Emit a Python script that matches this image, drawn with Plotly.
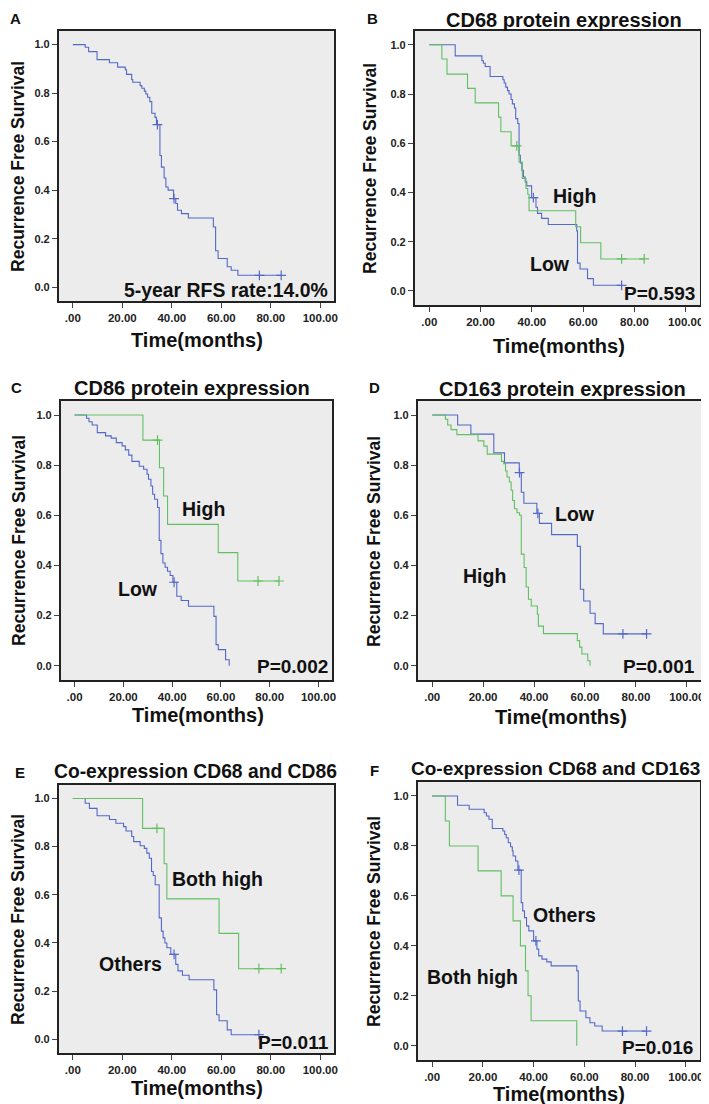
import plotly.graph_objects as go

# ---------------- data ----------------
# Panel A: all patients
A_t = [0, 5.0, 6.4, 9.8, 14.8, 18.1, 21.2, 21.7, 23.8, 24.2, 27.2, 27.9, 28.9, 29.5, 30.2, 31.1, 31.9, 33.2, 33.8,
       35.2, 35.8, 36.9, 37.6, 38.5, 40.7, 41.6, 42.3, 43.9, 46.7, 56.8, 57.7, 58.7, 62.4, 64.0, 66.7]
A_s = [1.0, 0.989, 0.971, 0.938, 0.925, 0.907, 0.896, 0.877, 0.856, 0.845, 0.831, 0.82, 0.808, 0.796, 0.783, 0.765,
       0.717, 0.70, 0.67, 0.543, 0.495, 0.45, 0.413, 0.40, 0.365, 0.345, 0.317, 0.303, 0.285, 0.248, 0.15, 0.118,
       0.084, 0.07, 0.049]
A_c = [34.2, 40.9, 75.4, 84.2]

# Panel B: CD68 (Low = blue, High = green)
B_low_t = [0, 10.1, 20.5, 21.1, 21.8, 23.7, 28.7, 29.2, 29.8, 30.5, 31.1, 31.9, 32.4, 33.2, 33.7, 34.5, 35.0, 35.5,
           36.1, 36.7, 37.4, 38.0, 39.9, 41.6, 42.2, 43.8, 46.4, 57.5, 57.8, 58.8, 61.7, 64.0]
B_low_s = [1.0, 0.955, 0.935, 0.925, 0.912, 0.871, 0.858, 0.845, 0.828, 0.814, 0.80, 0.778, 0.76, 0.743, 0.70, 0.68,
           0.551, 0.52, 0.49, 0.463, 0.443, 0.427, 0.379, 0.34, 0.315, 0.295, 0.27, 0.244, 0.113, 0.089, 0.05, 0.023]
B_low_c = [40.6, 75.0]
B_high_t = [0, 4.9, 6.9, 14.9, 17.9, 27.0, 27.9, 31.9, 35.0, 36.3, 37.7, 38.4, 38.9, 57.1, 59.0, 66.9]
B_high_s = [1.0, 0.942, 0.881, 0.823, 0.764, 0.706, 0.647, 0.589, 0.524, 0.457, 0.416, 0.393, 0.326, 0.261, 0.196, 0.13]
B_high_c = [34.1, 75.0, 83.8]

# Panel C: CD86
C_low_t = [0, 4.9, 5.9, 7.2, 9.3, 12.7, 15.0, 17.1, 19.5, 20.8, 22.2, 23.5, 26.5, 28.3, 29.7, 30.3, 31.3, 32.0, 32.8,
           34.0, 34.7, 35.4, 36.2, 37.1, 38.1, 39.2, 40.3, 41.9, 43.7, 46.7, 57.1, 58.0, 58.9, 61.9, 63.4]
C_low_s = [1.0, 0.987, 0.973, 0.96, 0.93, 0.917, 0.908, 0.89, 0.877, 0.861, 0.84, 0.815, 0.796, 0.784, 0.764, 0.744,
           0.717, 0.684, 0.664, 0.631, 0.50, 0.447, 0.41, 0.393, 0.377, 0.36, 0.333, 0.277, 0.26, 0.237, 0.197, 0.084,
           0.064, 0.024, 0.0]
C_low_c = [40.8]
C_high_t = [0, 28.0, 34.8, 36.5, 38.1, 58.9, 66.9]
C_high_s = [1.0, 0.90, 0.79, 0.677, 0.564, 0.451, 0.338]
C_high_c = [34.0, 75.2, 83.8]

# Panel D: CD163
D_low_t = [0, 10.0, 15.2, 24.2, 28.4, 34.2, 35.0, 36.0, 41.1, 42.1, 46.9, 57.0, 58.2, 59.5, 62.0, 64.0, 67.2]
D_low_s = [1.0, 0.96, 0.924, 0.849, 0.809, 0.77, 0.692, 0.648, 0.608, 0.568, 0.523, 0.476, 0.305, 0.258, 0.209,
           0.168, 0.127]
D_low_c = [34.3, 41.5, 74.9, 84.2]
D_high_t = [0, 5.2, 6.1, 7.4, 9.7, 18.0, 20.3, 21.6, 27.2, 28.1, 28.8, 29.4, 30.3, 31.0, 31.6, 32.3, 33.3, 34.3,
            35.0, 36.1, 36.9, 37.8, 38.9, 41.3, 41.7, 43.7, 57.0, 57.9, 58.8, 61.1, 62.0]
D_high_s = [1.0, 0.983, 0.96, 0.942, 0.922, 0.897, 0.876, 0.844, 0.815, 0.806, 0.777, 0.753, 0.733, 0.70, 0.659,
            0.626, 0.61, 0.60, 0.445, 0.392, 0.314, 0.265, 0.238, 0.205, 0.158, 0.128, 0.10, 0.074, 0.047, 0.02, 0.0]
D_high_c = []

# Panel E: co-expression CD68 and CD86
E_oth_t = [0, 5.0, 6.7, 9.8, 14.8, 17.4, 20.5, 21.5, 23.8, 24.6, 27.2, 28.9, 29.9, 30.9, 31.8, 32.5, 33.3, 34.9,
           35.8, 36.5, 37.2, 38.0, 39.6, 41.6, 42.5, 44.3, 47.0, 57.0, 58.1, 59.1, 62.4, 64.0]
E_oth_s = [1.0, 0.98, 0.959, 0.928, 0.913, 0.897, 0.883, 0.865, 0.842, 0.821, 0.804, 0.793, 0.773, 0.752, 0.697,
           0.68, 0.642, 0.504, 0.449, 0.421, 0.40, 0.38, 0.353, 0.311, 0.284, 0.266, 0.247, 0.205, 0.102, 0.077,
           0.039, 0.019]
E_oth_c = [40.9, 75.2]
E_both_t = [0, 28.2, 36.9, 38.0, 59.1, 67.0]
E_both_s = [1.0, 0.876, 0.729, 0.583, 0.44, 0.293]
E_both_c = [34.0, 75.2, 84.2]

# Panel F: co-expression CD68 and CD163
F_oth_t = [0, 10.0, 14.6, 20.5, 21.4, 22.4, 23.7, 27.9, 28.6, 29.2, 30.0, 30.9, 31.6, 31.9, 32.9, 33.8, 35.1, 35.7,
           36.4, 37.2, 38.1, 40.0, 41.3, 42.0, 43.3, 45.2, 46.9, 57.0, 57.6, 58.3, 60.6, 62.2, 64.1, 67.0]
F_oth_s = [1.0, 0.963, 0.947, 0.933, 0.92, 0.907, 0.87, 0.86, 0.846, 0.833, 0.813, 0.797, 0.78, 0.76, 0.74, 0.703,
           0.573, 0.54, 0.513, 0.48, 0.46, 0.42, 0.387, 0.36, 0.347, 0.336, 0.32, 0.30, 0.179, 0.139, 0.112, 0.092,
           0.079, 0.059]
F_oth_c = [34.2, 40.9, 75.0, 84.5]
F_both_t = [0, 5.2, 6.8, 18.1, 27.2, 31.9, 34.8, 36.8, 37.8, 39.0, 57.0]
F_both_s = [1.0, 0.9, 0.8, 0.7, 0.6, 0.5, 0.4, 0.3, 0.2, 0.1, 0.0]
F_both_c = []

x_tickvals = [0, 20, 40, 60, 80, 100]
x_ticktext = [".00", "20.00", "40.00", "60.00", "80.00", "100.00"]
y_tickvals = [0, 0.2, 0.4, 0.6, 0.8, 1.0]
y_ticktext = ["0.0", "0.2", "0.4", "0.6", "0.8", "1.0"]

BLUE = "#5468c8"
GREEN = "#62bf62"
FONT = "Liberation Sans"

W, H = 709, 1104

# panel geometry in pixels: (left, right, top, bottom)
panels = [
    dict(box=(51, 328, 23, 293), letter="A", lpos=(8, 11), title=None, tpos=None, tsize=20,
         ytp=(10, 158), xtp=(190, 332)),
    dict(box=(409, 696, 23, 297), letter="B", lpos=(367, 11), title="CD68 protein expression", tpos=(559, 12),
         tsize=20, ytp=(364, 160), xtp=(554, 338)),
    dict(box=(53, 326, 393, 672), letter="C", lpos=(9, 379), title="CD86 protein expression", tpos=(185, 380),
         tsize=20, ytp=(11, 532), xtp=(191, 707)),
    dict(box=(412, 697, 393, 672), letter="D", lpos=(369, 379), title="CD163 protein expression", tpos=(558, 381),
         tsize=20, ytp=(368, 533), xtp=(556, 709)),
    dict(box=(51, 328, 777, 1045), letter="E", lpos=(12, 764), title="Co-expression CD68 and CD86", tpos=(189, 763),
         tsize=19.3, ytp=(10, 911), xtp=(190, 1080)),
    dict(box=(412, 696, 774, 1052), letter="F", lpos=(369, 762), title="Co-expression CD68 and CD163", tpos=(551, 760),
         tsize=19, ytp=(368, 913), xtp=(554, 1086)),
]

curves = [
    [(A_t, A_s, A_c, BLUE)],
    [(B_low_t, B_low_s, B_low_c, BLUE), (B_high_t, B_high_s, B_high_c, GREEN)],
    [(C_low_t, C_low_s, C_low_c, BLUE), (C_high_t, C_high_s, C_high_c, GREEN)],
    [(D_low_t, D_low_s, D_low_c, BLUE), (D_high_t, D_high_s, D_high_c, GREEN)],
    [(E_oth_t, E_oth_s, E_oth_c, BLUE), (E_both_t, E_both_s, E_both_c, GREEN)],
    [(F_oth_t, F_oth_s, F_oth_c, BLUE), (F_both_t, F_both_s, F_both_c, GREEN)],
]

# in-plot labels (data coordinates)
labels = [
    [("5-year RFS rate:14.0%", 61.9, -0.012, 19.4)],
    [("High", 56.7, 0.385, 19.5), ("Low", 47.2, 0.11, 19.5), ("P=0.593", 89.9, -0.011, 19)],
    [("High", 52.8, 0.627, 19.5), ("Low", 26.0, 0.307, 19.5), ("P=0.002", 89.5, -0.003, 19)],
    [("Low", 56.0, 0.606, 19.5), ("High", 20.7, 0.358, 19.5), ("P=0.001", 89.0, -0.005, 19)],
    [("Both high", 58.4, 0.667, 19.5), ("Others", 23.5, 0.311, 19.5), ("P=0.011", 89.3, -0.012, 19)],
    [("Others", 52.2, 0.522, 19.5), ("Both high", 15.9, 0.275, 19.5), ("P=0.016", 89.0, -0.005, 19)],
]

XR = [-5.7, 105.6]
YR = [-0.057, 1.056]


def step_at(ts, ss, t):
    v = ss[0]
    for ti, si in zip(ts, ss):
        if ti <= t:
            v = si
    return v


fig = go.Figure()
annotations = []

for i, (p, cs, labs) in enumerate(zip(panels, curves, labels)):
    n = "" if i == 0 else str(i + 1)
    xa, ya = "x" + n, "y" + n
    for ts, ss, cens, col in cs:
        end = max([ts[-1]] + list(cens))
        xs = list(ts) + [end]
        ys = list(ss) + [ss[-1]]
        fig.add_trace(go.Scatter(x=xs, y=ys, mode="lines", line=dict(color=col, width=1.1, shape="hv"),
                                 xaxis=xa, yaxis=ya, showlegend=False, hoverinfo="skip"))
        if cens:
            fig.add_trace(go.Scatter(x=list(cens), y=[step_at(ts, ss, c) for c in cens], mode="markers",
                                     marker=dict(symbol="cross-thin", size=7, line=dict(color=col, width=1.2)),
                                     xaxis=xa, yaxis=ya, showlegend=False, hoverinfo="skip"))
    l, r, t, b = p["box"]
    axx = dict(domain=[l / W, r / W], anchor=ya, range=XR, tickvals=x_tickvals, ticktext=x_ticktext,
               showgrid=False, zeroline=False, showline=True, mirror=True, linecolor="#222", linewidth=1.6,
               ticks="outside", ticklen=5, tickwidth=1, tickcolor="#444",
               tickfont=dict(family=FONT, size=11.5, color="#222", weight="bold"))
    axy = dict(domain=[1 - b / H, 1 - t / H], anchor=xa, range=YR, tickvals=y_tickvals, ticktext=y_ticktext,
               showgrid=False, zeroline=False, showline=True, mirror=True, linecolor="#222", linewidth=1.6,
               ticks="outside", ticklen=5, tickwidth=1, tickcolor="#444",
               tickfont=dict(family=FONT, size=11, color="#222", weight="bold"))
    fig.update_layout(**{"xaxis" + n: axx, "yaxis" + n: axy})

    # panel letter
    annotations.append(dict(text=p["letter"], x=p["lpos"][0] / W, y=1 - p["lpos"][1] / H, xref="paper",
                            yref="paper", showarrow=False, xanchor="center", yanchor="middle",
                            font=dict(family=FONT, size=15, color="#111", weight="bold")))
    if p["title"]:
        annotations.append(dict(text=p["title"], x=p["tpos"][0] / W, y=1 - p["tpos"][1] / H, xref="paper",
                                yref="paper", showarrow=False, xanchor="center", yanchor="middle",
                                font=dict(family=FONT, size=p["tsize"], color="#111", weight="bold")))
    annotations.append(dict(text="Recurrence Free Survival", x=p["ytp"][0] / W, y=1 - p["ytp"][1] / H,
                            xref="paper", yref="paper", showarrow=False, textangle=-90,
                            xanchor="center", yanchor="middle",
                            font=dict(family=FONT, size=17.5, color="#111", weight="bold")))
    annotations.append(dict(text="Time(months)", x=p["xtp"][0] / W, y=1 - p["xtp"][1] / H,
                            xref="paper", yref="paper", showarrow=False, xanchor="center", yanchor="middle",
                            font=dict(family=FONT, size=20, color="#111", weight="bold")))
    for txt, lx, ly, fs in labs:
        annotations.append(dict(text=txt, x=lx, y=ly, xref=xa, yref=ya, showarrow=False,
                                xanchor="center", yanchor="middle",
                                font=dict(family=FONT, size=fs, color="#111", weight="bold")))

fig.update_layout(width=W, height=H, margin=dict(l=0, r=0, t=0, b=0), paper_bgcolor="white",
                  plot_bgcolor="#ececec", annotations=annotations, showlegend=False)

fig.write_html("out.html")
